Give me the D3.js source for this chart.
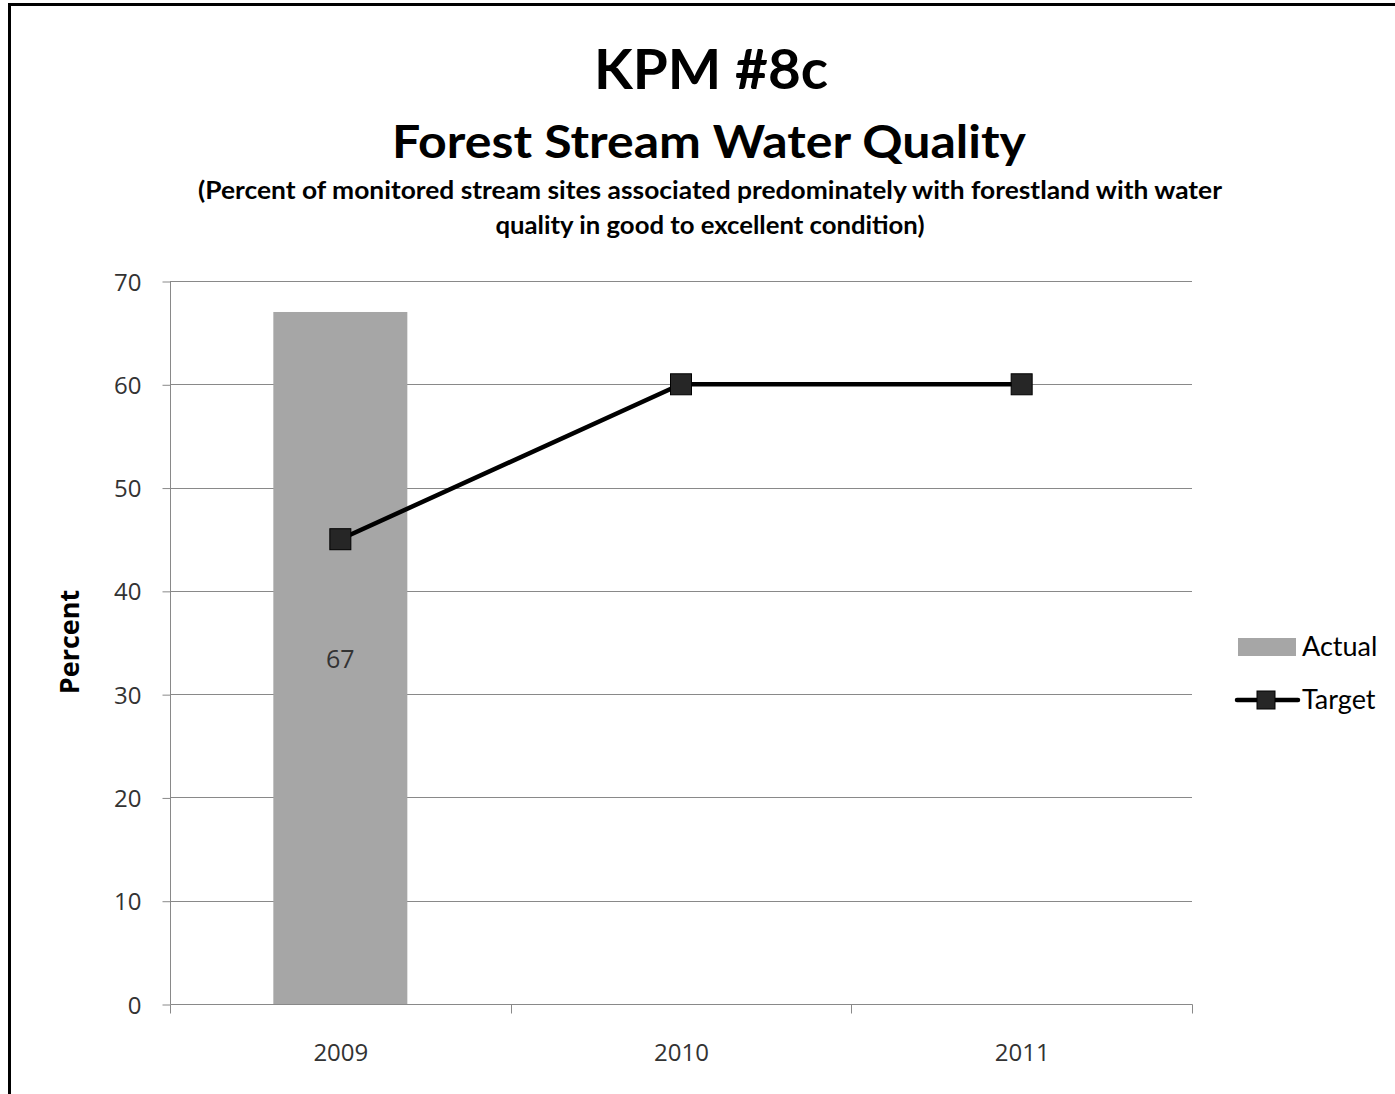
<!DOCTYPE html>
<html>
<head>
<meta charset="utf-8">
<script src="https://cdn.jsdelivr.net/npm/d3@7"></script>
<style>
  html, body { margin: 0; padding: 0; background: #fff; }
  svg { display: block; }
</style>
</head>
<body>
<svg id="chart" width="1395" height="1094"></svg>
<script>
const categories = ["2009", "2010", "2011"];
const actualValues = [67, null, null];
const targetValues = [45, 60, 60];
const yTicks = [0, 10, 20, 30, 40, 50, 60, 70];
const titleLine1 = "KPM #8c";
const titleLine2 = "Forest Stream Water Quality";
const subtitleLines = [
  "(Percent of monitored stream sites associated predominately with forestland with water",
  "quality in good to excellent condition)"
];
const yAxisTitle = "Percent";
const legendLabels = ["Actual", "Target"];

const svg = d3.select("#chart");
const W = 1395, H = 1094;
const plot = { left: 170, right: 1192, top: 281, bottom: 1004 };

svg.append("rect").attr("x", 0).attr("y", 0).attr("width", W).attr("height", H).attr("fill", "#fff");
// outer border (right/bottom cut off in reference)
svg.append("rect").attr("x", 9.5).attr("y", 4.5).attr("width", W + 20).attr("height", H + 20)
  .attr("fill", "none").attr("stroke", "#000").attr("stroke-width", 3);

const titleFont = "Lato, 'Open Sans', sans-serif";
const numFont = "'Open Sans', 'DejaVu Sans', sans-serif";

svg.append("text").attr("x", 711).attr("y", 89).attr("text-anchor", "middle")
  .attr("font-family", titleFont).attr("font-weight", "bold").attr("font-size", 56)
  .attr("fill", "#000").attr("textLength", 234).attr("lengthAdjust", "spacingAndGlyphs").text(titleLine1);
svg.append("text").attr("x", 709).attr("y", 158).attr("text-anchor", "middle")
  .attr("font-family", titleFont).attr("font-weight", "bold").attr("font-size", 46)
  .attr("fill", "#000").attr("textLength", 634).attr("lengthAdjust", "spacingAndGlyphs").text(titleLine2);
const subX = [710, 710], subY = [199, 234], subLen = [1024, 429];
subtitleLines.forEach((s, i) => {
  svg.append("text").attr("x", subX[i]).attr("y", subY[i]).attr("text-anchor", "middle")
    .attr("font-family", titleFont).attr("font-weight", "bold").attr("font-size", 24)
    .attr("fill", "#000").attr("textLength", subLen[i]).attr("lengthAdjust", "spacingAndGlyphs").text(s);
});

const x = d3.scaleBand().domain(categories).range([plot.left, plot.right]).paddingInner(0).paddingOuter(0);
const y = d3.scaleLinear().domain([0, 70]).range([plot.bottom, plot.top]);
const gridColor = "#898989";

// gridlines
svg.append("g").selectAll("line").data(yTicks.filter(d => d > 0)).join("line")
  .attr("x1", plot.left).attr("x2", plot.right)
  .attr("y1", d => Math.round(y(d)) + 0.5).attr("y2", d => Math.round(y(d)) + 0.5)
  .attr("stroke", gridColor).attr("stroke-width", 1);

// y axis
const yAxis = svg.append("g").attr("transform", `translate(${plot.left + 0.5},0.5)`)
  .call(d3.axisLeft(y).tickValues(yTicks).tickSize(8).tickPadding(21).tickFormat(d3.format("d")));
yAxis.select(".domain").attr("stroke", gridColor).attr("d", `M0,${plot.top}V${plot.bottom}`);
yAxis.selectAll(".tick line").attr("stroke", gridColor);
yAxis.selectAll(".tick text").attr("font-family", numFont).attr("font-size", 24).attr("fill", "#333").attr("dy", "0.36em");

// x axis
const xAxis = svg.append("g").attr("transform", `translate(0.5,${plot.bottom + 0.5})`)
  .call(d3.axisBottom(x).tickSize(0).tickPadding(0));
xAxis.select(".domain").attr("stroke", gridColor).attr("d", `M${plot.left},0H${plot.right}`);
xAxis.selectAll(".tick text").attr("font-family", numFont).attr("font-size", 24).attr("fill", "#333")
  .attr("y", 56).attr("dy", 0);
const bounds = categories.map(c => x(c)).concat([plot.right]);
xAxis.selectAll(".sep").data(bounds).join("line").attr("class", "sep")
  .attr("x1", d => Math.round(d)).attr("x2", d => Math.round(d)).attr("y1", 0).attr("y2", 9)
  .attr("stroke", gridColor);

// bars
const barW = 134;
const barData = categories.map((c, i) => ({ c, v: actualValues[i] })).filter(d => d.v != null);
svg.append("g").selectAll("rect").data(barData).join("rect")
  .attr("x", d => x(d.c) + x.bandwidth() / 2 - barW / 2)
  .attr("y", d => y(d.v))
  .attr("width", barW)
  .attr("height", d => y(0) - y(d.v))
  .attr("fill", "#a6a6a6");
svg.append("g").selectAll("text").data(barData).join("text")
  .attr("x", d => x(d.c) + x.bandwidth() / 2)
  .attr("y", d => (y(d.v) + y(0)) / 2 + 10)
  .attr("text-anchor", "middle").attr("font-family", numFont).attr("font-size", 25).attr("fill", "#333")
  .text(d => d.v);

// target line
const tData = categories.map((c, i) => ({ c, v: targetValues[i] }));
const line = d3.line().x(d => x(d.c) + x.bandwidth() / 2).y(d => y(d.v));
svg.append("path").datum(tData).attr("d", line).attr("fill", "none")
  .attr("stroke", "#000").attr("stroke-width", 4.5);
const ms = 21;
svg.append("g").selectAll("rect").data(tData).join("rect")
  .attr("x", d => x(d.c) + x.bandwidth() / 2 - ms / 2)
  .attr("y", d => y(d.v) - ms / 2)
  .attr("width", ms).attr("height", ms)
  .attr("fill", "#262626").attr("stroke", "#000").attr("stroke-width", 1);

// y axis title
svg.append("text").attr("transform", "translate(79,642) rotate(-90)").attr("text-anchor", "middle")
  .attr("font-family", numFont).attr("font-weight", "bold").attr("font-size", 27).attr("fill", "#000")
  .text(yAxisTitle);

// legend
const lg = svg.append("g");
lg.append("rect").attr("x", 1238).attr("y", 638).attr("width", 58).attr("height", 18).attr("fill", "#a6a6a6");
lg.append("text").attr("x", 1302).attr("y", 656).attr("font-family", titleFont).attr("font-size", 27)
  .attr("fill", "#000").text(legendLabels[0]);
lg.append("line").attr("x1", 1237).attr("x2", 1298).attr("y1", 700).attr("y2", 700)
  .attr("stroke", "#000").attr("stroke-width", 4.5).attr("stroke-linecap", "round");
lg.append("rect").attr("x", 1257).attr("y", 691).attr("width", 18).attr("height", 18)
  .attr("fill", "#262626").attr("stroke", "#000").attr("stroke-width", 1);
lg.append("text").attr("x", 1302).attr("y", 709).attr("font-family", titleFont).attr("font-size", 27)
  .attr("fill", "#000").text(legendLabels[1]);
</script>
</body>
</html>
